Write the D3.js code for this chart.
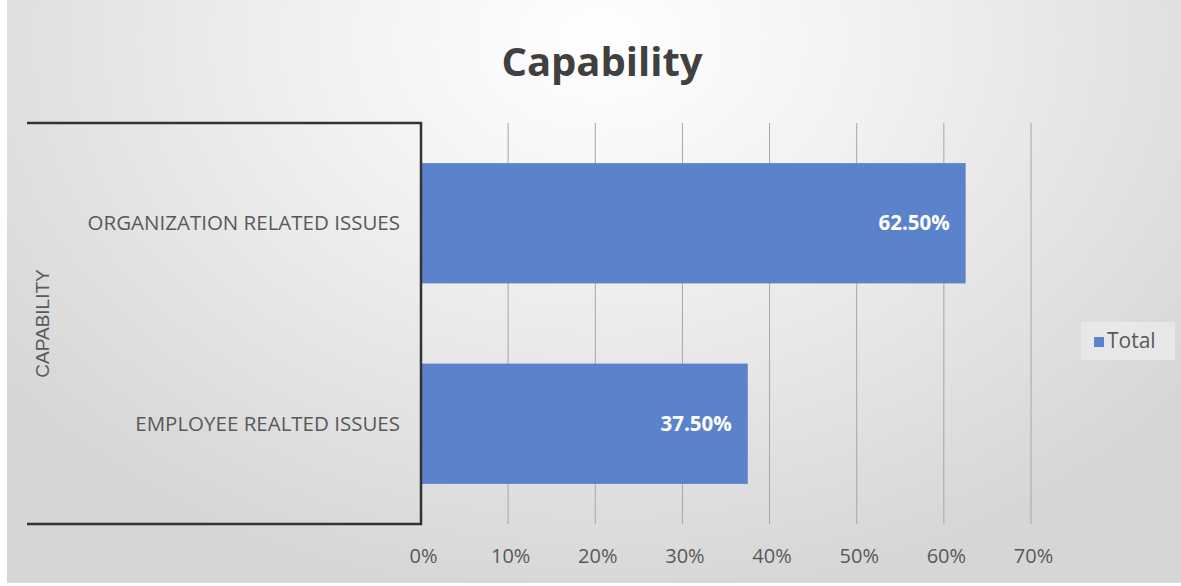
<!DOCTYPE html>
<html><head><meta charset="utf-8">
<script src="https://cdn.jsdelivr.net/npm/d3@7"></script>
<style>html,body{margin:0;padding:0;background:#fff;}svg{display:block;}</style>
</head><body>
<svg id="chart" width="1181" height="586"></svg>
<script>
const categories = ["ORGANIZATION RELATED ISSUES", "EMPLOYEE REALTED ISSUES"];
const values = [0.625, 0.375];
const dataLabels = ["62.50%", "37.50%"];
const xTicks = [0, 0.1, 0.2, 0.3, 0.4, 0.5, 0.6, 0.7];
const xTickLabels = ["0%", "10%", "20%", "30%", "40%", "50%", "60%", "70%"];
const seriesName = "Total";
const title = "Capability";
const axisTitle = "CAPABILITY";

(function () {
const svg = d3.select("#chart");
const W = 1181, H = 586;
const defs = svg.append("defs");
const grad = defs.append("radialGradient").attr("id", "bg")
  .attr("gradientUnits", "userSpaceOnUse")
  .attr("cx", 600).attr("cy", 40).attr("r", 760)
  .attr("gradientTransform", "translate(600,40) scale(1,0.75) translate(-600,-40)");
grad.append("stop").attr("offset", "0").attr("stop-color", "#ffffff");
grad.append("stop").attr("offset", "0.35").attr("stop-color", "#f2f2f2");
grad.append("stop").attr("offset", "1").attr("stop-color", "#d6d6d6");

svg.append("rect").attr("width", W).attr("height", H).attr("fill", "#ffffff");
svg.append("rect").attr("x", 7).attr("y", 0).attr("width", W - 7).attr("height", H - 3).attr("fill", "url(#bg)");

const pLeft = 421, pRight = 1031, pTop = 123, pBottom = 524;
const x = d3.scaleLinear().domain([0, 0.7]).range([pLeft, pRight]);
const y = d3.scaleBand().domain(categories).range([pTop, pBottom]).paddingInner(0.4).paddingOuter(0.2);
const font = "'Open Sans', 'Noto Sans', sans-serif";

svg.append("g").selectAll("line").data(xTicks.slice(1)).join("line")
  .attr("x1", d => x(d)).attr("x2", d => x(d))
  .attr("y1", pTop).attr("y2", pBottom)
  .attr("stroke", "#a6a6a6").attr("stroke-width", 1);

svg.append("g").selectAll("rect").data(values).join("rect")
  .attr("x", x(0)).attr("y", (d, i) => y(categories[i]))
  .attr("width", d => x(d) - x(0)).attr("height", y.bandwidth())
  .attr("fill", "#5b83cb");

svg.append("g").selectAll("text").data(values).join("text")
  .attr("x", d => x(d) - 16).attr("y", (d, i) => y(categories[i]) + y.bandwidth() / 2)
  .attr("dy", "0.35em").attr("text-anchor", "end")
  .attr("font-family", font).attr("font-weight", "bold")
  .attr("font-size", 20.5).attr("fill", "#ffffff")
  .text((d, i) => dataLabels[i]);

svg.append("path")
  .attr("d", `M27,${pTop}H${pLeft}V${pBottom}H27`)
  .attr("fill", "none").attr("stroke", "#333333").attr("stroke-width", 2.5);

svg.append("g").selectAll("text").data(categories).join("text")
  .attr("x", 400).attr("y", d => y(d) + y.bandwidth() / 2)
  .attr("dy", "0.35em").attr("text-anchor", "end")
  .attr("font-family", font)
  .attr("font-size", 20.5).attr("fill", "#595959")
  .text(d => d);

const xAxis = d3.axisBottom(x).tickValues(xTicks).tickFormat((d, i) => xTickLabels[i]).tickSize(0).tickPadding(0);
const gx = svg.append("g").attr("transform", `translate(0,${pBottom})`).call(xAxis);
gx.select(".domain").remove();
gx.selectAll("text")
  .attr("y", 39).attr("dy", "0").attr("dx", 2)
  .attr("font-family", font)
  .attr("font-size", 20).attr("fill", "#595959");

svg.append("text")
  .attr("transform", `translate(49,${(pTop + pBottom) / 2}) rotate(-90)`)
  .attr("text-anchor", "middle")
  .attr("font-family", "'Liberation Sans', Arial, sans-serif")
  .attr("font-size", 19).attr("fill", "#595959")
  .text(axisTitle);

svg.append("text").attr("x", 602).attr("y", 76).attr("text-anchor", "middle")
  .attr("font-family", font).attr("font-weight", "bold")
  .attr("font-size", 40).attr("fill", "#404040").text(title);

const lg = svg.append("g");
lg.append("rect").attr("x", 1081).attr("y", 322).attr("width", 94).attr("height", 38).attr("fill", "#ececec").attr("opacity", 0.7);
lg.append("rect").attr("x", 1094).attr("y", 337).attr("width", 10).attr("height", 10).attr("fill", "#5b83cb");
lg.append("text").attr("x", 1107).attr("y", 348)
  .attr("font-family", font)
  .attr("font-size", 21).attr("fill", "#595959").text(seriesName);
})();
</script>
</body></html>
